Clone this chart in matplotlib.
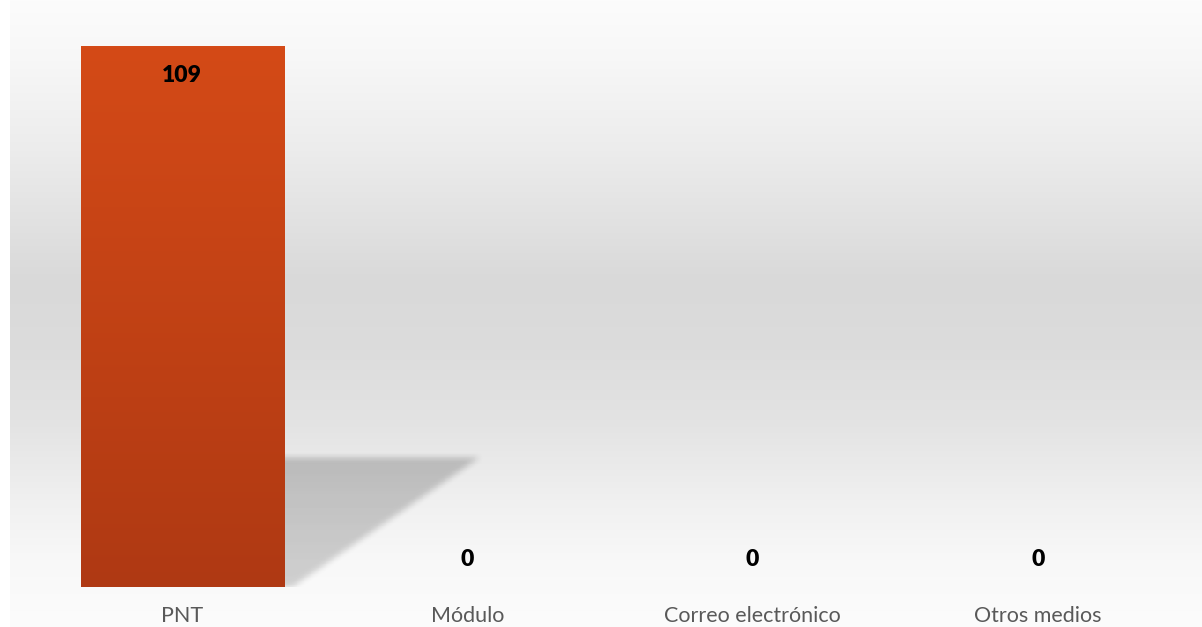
import numpy as np
from matplotlib import pyplot as plt

# Data
categories = ['PNT', 'Módulo', 'Correo electrónico', 'Otros medios']
values = [109, 0, 0, 0]

W, H = 1202, 627
fig = plt.figure(figsize=(W / 100, H / 100), dpi=100)
fig.patch.set_facecolor('white')

# chart area background: vertical grey gradient
bg = fig.add_axes([10 / W, 0, 1 - 10 / W, 1], zorder=0)
stops_y = [0, 60, 150, 280, 350, 420, 500, 560, 627]
stops_v = [252, 247, 236, 217, 220, 227, 240, 248, 252]
rows = np.interp(np.arange(H), stops_y, stops_v) / 255
bg_img = np.repeat(np.repeat(rows[:, None, None], 3, axis=2), 8, axis=1)
bg.imshow(bg_img, aspect='auto', extent=[0, 1, 0, 1], interpolation='none')
bg.set_axis_off()

# plot area
x0 = (182 - 142.65) / W
x1 = (1038 + 142.65) / W
y0 = (H - 587) / H
ax = fig.add_axes([x0, y0, x1 - x0, 1 - y0], zorder=1)
ax.patch.set_alpha(0)
ymax = 109 * 587 / 541
ax.set_xlim(-0.5, 3.5)
ax.set_ylim(0, ymax)

bw = 203 / 285.3
x = np.arange(len(categories))

# soft shadow to the right of the bar
for xi, v in zip(x, values):
    if v <= 0:
        continue
    right = xi + bw / 2
    sh_top = v * 0.24
    sh_far = right + 0.686
    gx = np.linspace(right - 0.15, sh_far + 0.15, 320)
    gy = np.linspace(-2, sh_top + 3, 200)
    XX, YY = np.meshgrid(gx, gy)
    xr = right + 0.03 + (sh_far - right - 0.03) * np.clip(YY / sh_top, 0, 1)
    mask = ((XX >= right - 0.1) & (XX <= xr) & (YY >= 0) & (YY <= sh_top)).astype(float)
    # a little darker close to the bar top
    mask *= 0.85 + 0.15 * np.clip(YY / sh_top, 0, 1)
    k = 9
    kern = np.ones(k) / k
    for _ in range(2):
        mask = np.apply_along_axis(lambda r: np.convolve(r, kern, mode='same'), 1, mask)
        mask = np.apply_along_axis(lambda c: np.convolve(c, kern, mode='same'), 0, mask)
    rgba = np.zeros(mask.shape + (4,))
    rgba[..., 3] = mask * 0.2
    ax.imshow(rgba, extent=[gx[0], gx[-1], gy[0], gy[-1]], origin='lower',
              aspect='auto', interpolation='none', zorder=1)

# bars with vertical orange gradient
bars = ax.bar(x, values, width=bw, color='none', edgecolor='none', zorder=2)
grad = np.linspace(0, 1, 256)[:, None, None]
top_c = np.array([212, 74, 23]) / 255
bot_c = np.array([175, 57, 19]) / 255
grad_img = bot_c + (top_c - bot_c) * grad * np.ones((1, 4, 1))
for b in bars:
    if b.get_height() <= 0:
        continue
    bx, by = b.get_x(), b.get_y()
    im = ax.imshow(grad_img, extent=[bx, bx + b.get_width(), by, by + b.get_height()],
                   origin='lower', aspect='auto', interpolation='none', zorder=3)
    im.set_clip_path(b)

# value labels
for xi, v in zip(x, values):
    dy = -30 if v > 0 else 28
    ax.annotate(str(v), (xi, v), xytext=(0, dy), textcoords='offset pixels',
                ha='center', va='center', fontsize=16.5, fontweight='heavy',
                family='Lato', color='black', zorder=4)

ax.set_xticks(x)
ax.set_xticklabels(categories, fontsize=15.5, family='Lato', color='#595959')
ax.tick_params(axis='x', length=0, pad=14)
ax.set_yticks([])
for s in ax.spines.values():
    s.set_visible(False)

fig.savefig('out.png', dpi=100)
